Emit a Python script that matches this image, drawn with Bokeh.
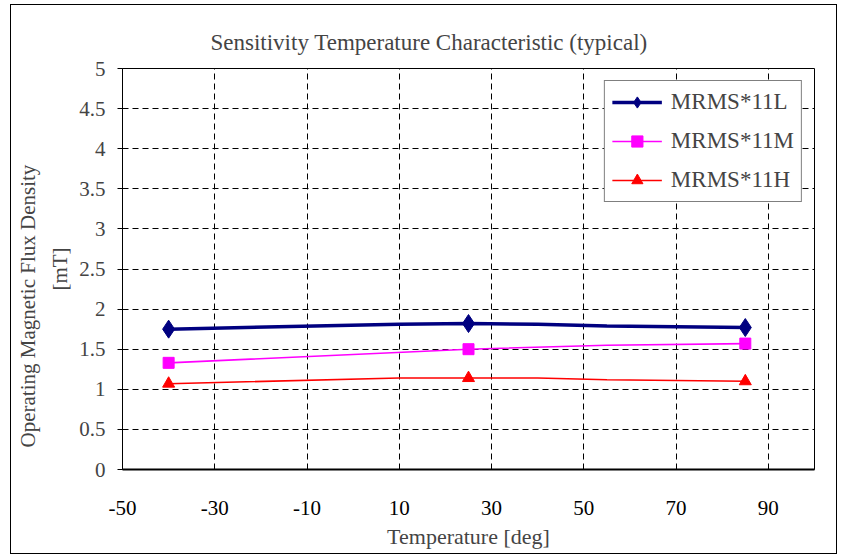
from bokeh.plotting import figure
from bokeh.models import Range1d, FixedTicker, Legend, LegendItem, Title
from bokeh.embed import file_html
from bokeh.resources import INLINE

# ---- data ----
x_ticks = [-50, -30, -10, 10, 30, 50, 70, 90]
x_tick_labels = ["-50", "-30", "-10", "10", "30", "50", "70", "90"]
y_ticks = [0, 0.5, 1, 1.5, 2, 2.5, 3, 3.5, 4, 4.5, 5]
y_tick_labels = ["0", "0.5", "1", "1.5", "2", "2.5", "3", "3.5", "4", "4.5", "5"]

series_names = ["MRMS*11L", "MRMS*11M", "MRMS*11H"]

temp_L = [-40, 10, 25, 40, 55, 85]
val_L = [1.75, 1.81, 1.82, 1.81, 1.79, 1.77]
temp_M = [-40, 25, 55, 85]
val_M = [1.33, 1.50, 1.55, 1.57]
temp_H = [-40, 10, 25, 40, 55, 85]
val_H = [1.07, 1.14, 1.14, 1.14, 1.12, 1.10]

marker_temps = [-40, 25, 85]

FONT = "Liberation Serif"

p = figure(width=827, height=550, output_backend="svg", toolbar_location=None,
           x_range=Range1d(-50, 100), y_range=Range1d(0, 5),
           min_border_left=111, min_border_right=24, min_border_top=63, min_border_bottom=86)
p.styles = {"border": "1px solid black", "margin-left": "10px", "margin-top": "4px"}

# title
p.title.text = "Sensitivity Temperature Characteristic (typical)"
p.title.text_font = FONT
p.title.text_font_size = "23px"
p.title.text_font_style = "normal"
p.title.align = "left"
p.title.offset = 88
p.title.standoff = 27

# grids
p.xgrid.ticker = FixedTicker(ticks=x_ticks[1:])
p.ygrid.ticker = FixedTicker(ticks=y_ticks[1:-1])
for g in (p.xgrid[0], p.ygrid[0]):
    g.grid_line_color = "black"
    g.grid_line_dash = "6 4"
    g.grid_line_width = 1

p.outline_line_color = "black"
p.outline_line_width = 1

# x axis
xa = p.xaxis[0]
xa.ticker = FixedTicker(ticks=x_ticks)
xa.major_label_overrides = {t: l for t, l in zip(x_ticks, x_tick_labels)}
xa.axis_line_width = 2
xa.axis_line_color = "black"
xa.major_tick_out = 0
xa.major_tick_in = 0
xa.minor_tick_out = 0
xa.minor_tick_in = 0
xa.major_label_standoff = 31
xa.major_label_text_font = FONT
xa.major_label_text_font_size = "21px"
xa.major_label_text_color = "black"
xa.axis_label = "Temperature [deg]"
xa.axis_label_text_font = FONT
xa.axis_label_text_font_size = "22px"
xa.axis_label_text_font_style = "normal"
xa.axis_label_standoff = 6

# y axis
ya = p.yaxis[0]
ya.ticker = FixedTicker(ticks=y_ticks)
ya.major_label_overrides = {t: l for t, l in zip(y_ticks, y_tick_labels)}
ya.axis_line_color = "black"
ya.major_tick_out = 5
ya.major_tick_in = 0
ya.minor_tick_out = 0
ya.minor_tick_in = 0
ya.major_label_standoff = 12
ya.major_label_text_font = FONT
ya.major_label_text_font_size = "21px"

unit_title = Title(text="[mT]", text_font=FONT, text_font_size="21px",
                   text_font_style="normal", align="center", standoff=10)
p.add_layout(unit_title, "left")
main_title = Title(text="Operating Magnetic Flux Density", text_font=FONT,
                   text_font_size="21px", text_font_style="normal",
                   align="left", offset=22, standoff=2)
p.add_layout(main_title, "left")

# series
items = []
specs = [
    (temp_L, val_L, "#000080", 3.5, "diamond", 18),
    (temp_M, val_M, "#FF00FF", 1.6, "square", 11),
    (temp_H, val_H, "#FF0000", 1.6, "triangle", 12),
]
for name, (tx, vy, col, lw, mk, ms) in zip(series_names, specs):
    r1 = p.line(tx, vy, line_color=col, line_width=lw)
    mx = [t for t in tx if t in marker_temps]
    my = [v for t, v in zip(tx, vy) if t in marker_temps]
    r2 = p.scatter(mx, my, marker=mk, size=ms, fill_color=col, line_color=col)
    items.append(LegendItem(label=name, renderers=[r1, r2]))

legend = Legend(items=items, location="top_right")
legend.border_line_color = "black"
legend.border_line_width = 1
legend.background_fill_color = "white"
legend.background_fill_alpha = 1
legend.label_text_font = FONT
legend.label_text_font_size = "23px"
legend.glyph_width = 50
legend.glyph_height = 28
legend.label_height = 28
legend.label_standoff = 9
legend.spacing = 11
legend.padding = 7
legend.margin = 12
p.add_layout(legend)

open("out.html", "w").write(file_html(p, INLINE))
